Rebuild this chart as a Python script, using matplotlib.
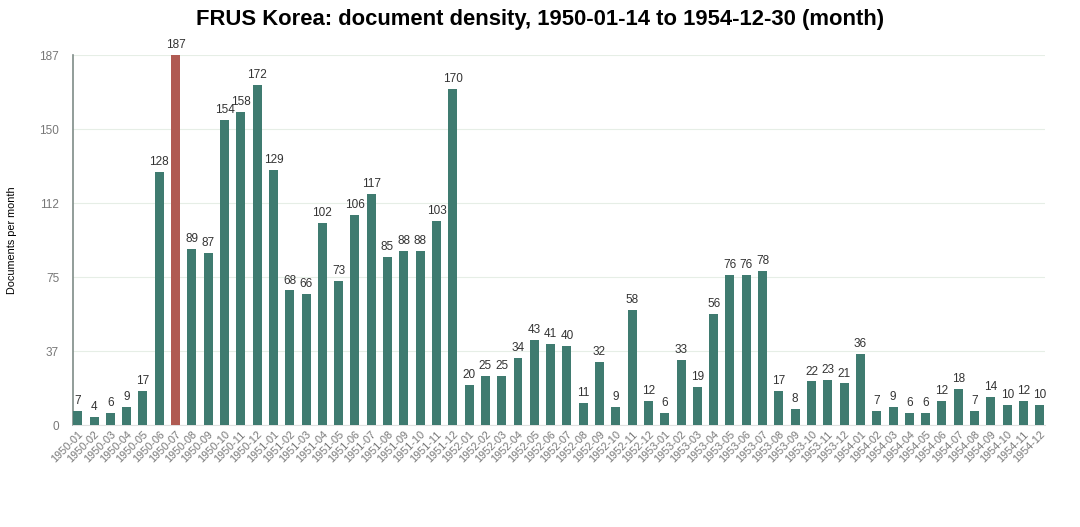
import numpy as np
import matplotlib.pyplot as plt

plt.rcParams['font.family'] = ['Liberation Sans', 'DejaVu Sans']

months = [f"{y}-{m:02d}" for y in range(1950, 1955) for m in range(1, 13)]
counts = [7, 4, 6, 9, 17, 128, 187, 89, 87, 154, 158, 172,
          129, 68, 66, 102, 73, 106, 117, 85, 88, 88, 103, 170,
          20, 25, 25, 34, 43, 41, 40, 11, 32, 9, 58, 12,
          6, 33, 19, 56, 76, 76, 78, 17, 8, 22, 23, 21,
          36, 7, 9, 6, 6, 12, 18, 7, 14, 10, 12, 10]
peak = max(counts)

teal = '#3f7b70'
red = '#b05a52'
colors = [red if c == peak else teal for c in counts]

fig = plt.figure(figsize=(10.8, 5.27), dpi=100)
ax = fig.add_axes([0.0676, 0.1935, 0.9, 0.7021])

x = np.arange(len(months))
bars = ax.bar(x, counts, width=0.55, color=colors, zorder=3)
for xi, c in zip(x, counts):
    ax.text(xi, c + 2, str(c), ha='center', va='bottom', fontsize=8.5, color='#333333')

# five equal steps up to the peak, labels rounded
ticks = np.linspace(0, peak, 6)
ax.set_yticks(ticks)
ax.set_yticklabels([str(int(round(t))) for t in ticks])
ax.set_ylim(0, peak)
ax.set_xlim(-0.29, len(months) - 0.68)
ax.yaxis.grid(True, color='#e6eee6', linewidth=0.8, zorder=0)

ax.set_xticks(x)
ax.set_xticklabels(months, rotation=45, ha='right', rotation_mode='anchor', fontsize=7.8, color='#777777')
ax.tick_params(axis='y', labelsize=8.5, colors='#777777', length=0, pad=10)
ax.tick_params(axis='x', length=0, pad=3)

for s in ['top', 'right']:
    ax.spines[s].set_visible(False)
ax.spines['left'].set_color('#7f8c88')
ax.spines['left'].set_linewidth(1.2)
ax.spines['bottom'].set_color('#e0e0e0')

ax.set_ylabel('Documents per month', fontsize=7.8, color='black', labelpad=16)
fig.suptitle('FRUS Korea: document density, 1950-01-14 to 1954-12-30 (month)',
             fontsize=15.8, fontweight='bold', x=0.5, y=0.982)

fig.savefig('out.png', dpi=100)
